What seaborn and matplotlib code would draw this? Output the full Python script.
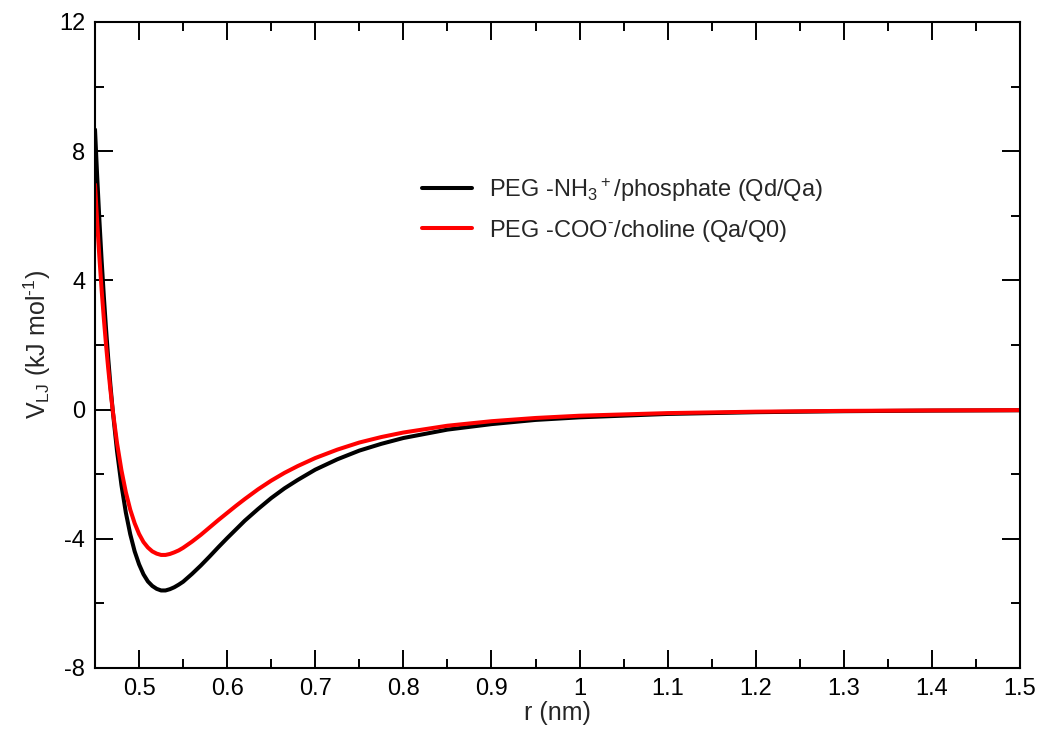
import numpy as np
import pandas as pd
import matplotlib
matplotlib.use("Agg")
import matplotlib.pyplot as plt
import seaborn as sns
from matplotlib.ticker import MultipleLocator

# ---- data ----
r_nm = [0.45, 0.4525, 0.455, 0.4575, 0.46, 0.4625, 0.465, 0.4675, 0.47, 0.475,
        0.48, 0.485, 0.49, 0.495, 0.50, 0.505, 0.51, 0.515, 0.52, 0.525,
        0.53, 0.535, 0.54, 0.545, 0.55, 0.56, 0.57, 0.58, 0.59, 0.60,
        0.61, 0.62, 0.635, 0.65, 0.665, 0.68, 0.70, 0.725, 0.75, 0.775,
        0.80, 0.85, 0.90, 0.95, 1.0, 1.1, 1.2, 1.3, 1.4, 1.5]
v_nh3_phosphate = [8.67, 7.19, 5.85, 4.62, 3.51, 2.50, 1.58, 0.75, 0.0, -1.29,
                   -2.34, -3.19, -3.86, -4.39, -4.79, -5.10, -5.32, -5.46, -5.55, -5.60,
                   -5.60, -5.56, -5.50, -5.42, -5.33, -5.09, -4.83, -4.55, -4.26, -3.98,
                   -3.71, -3.44, -3.08, -2.74, -2.44, -2.18, -1.86, -1.54, -1.27, -1.06,
                   -0.88, -0.62, -0.45, -0.32, -0.24, -0.135, -0.081, -0.050, -0.032, -0.021]
v_coo_choline = [6.97, 5.78, 4.70, 3.71, 2.82, 2.01, 1.27, 0.60, 0.0, -1.04,
                 -1.88, -2.56, -3.10, -3.52, -3.85, -4.10, -4.27, -4.39, -4.46, -4.50,
                 -4.50, -4.47, -4.42, -4.36, -4.28, -4.09, -3.88, -3.65, -3.42, -3.20,
                 -2.98, -2.77, -2.47, -2.20, -1.96, -1.75, -1.50, -1.24, -1.02, -0.85,
                 -0.71, -0.50, -0.36, -0.26, -0.19, -0.109, -0.065, -0.040, -0.026, -0.017]
series_labels = ["PEG -NH$_3$$^+$/phosphate (Qd/Qa)", "PEG -COO$^{\u2010}$/choline (Qa/Q0)"]
x_ticks = [0.5, 0.6, 0.7, 0.8, 0.9, 1.0, 1.1, 1.2, 1.3, 1.4, 1.5]
x_tick_labels = ["0.5", "0.6", "0.7", "0.8", "0.9", "1", "1.1", "1.2", "1.3", "1.4", "1.5"]
y_ticks = [-8, -4, 0, 4, 8, 12]

df = pd.DataFrame({
    "r": r_nm * 2,
    "V": v_nh3_phosphate + v_coo_choline,
    "series": [series_labels[0]] * len(r_nm) + [series_labels[1]] * len(r_nm),
})

sns.set_style("ticks")
plt.rcParams["font.family"] = ["Liberation Sans", "DejaVu Sans"]
plt.rcParams["mathtext.fontset"] = "custom"
plt.rcParams["mathtext.rm"] = "Liberation Sans"
plt.rcParams["mathtext.it"] = "Liberation Sans"
plt.rcParams["mathtext.default"] = "regular"
plt.rcParams["axes.unicode_minus"] = False

fig = plt.figure(figsize=(10.43, 7.33), dpi=100)
ax = fig.add_axes([0.0911, 0.0887, 0.8869, 0.8813])

sns.lineplot(data=df, x="r", y="V", hue="series", hue_order=series_labels,
             palette=["#000000", "#ff0000"], linewidth=2.9, ax=ax,
             sort=False, estimator=None)

ax.set_xlim(0.45, 1.5)
ax.set_ylim(-8, 12)
ax.set_xticks(x_ticks)
ax.set_xticklabels(x_tick_labels)
ax.set_yticks(y_ticks)
ax.xaxis.set_minor_locator(MultipleLocator(0.05))
ax.yaxis.set_minor_locator(MultipleLocator(2))
ax.tick_params(which="both", direction="in", top=True, right=True, width=1.4,
               labelsize=17, colors="black")
ax.tick_params(which="major", length=13, pad=7)
ax.tick_params(which="minor", length=6.5)
for s in ax.spines.values():
    s.set_linewidth(1.5)
    s.set_color("black")

ax.set_xlabel("r (nm)", fontsize=18, labelpad=1)
ax.set_ylabel("V$_{LJ}$ (kJ mol$^{\u20101}$)", fontsize=18, labelpad=4)

leg = ax.legend(loc="upper left", bbox_to_anchor=(0.331, 0.795), frameon=False,
                fontsize=17, handlelength=2.1, handletextpad=0.72, labelspacing=0.6,
                title=None)

fig.savefig("out.png", dpi=100)
